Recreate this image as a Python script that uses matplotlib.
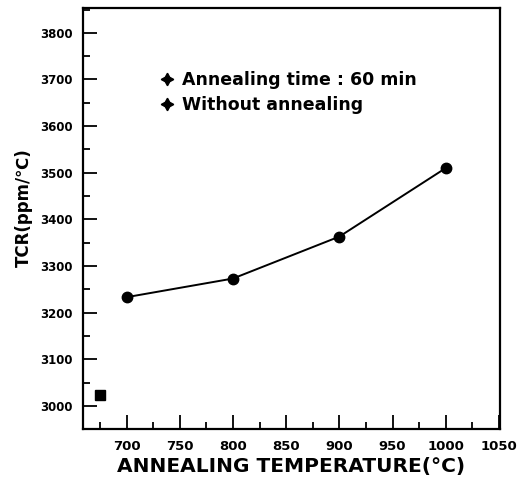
import matplotlib
matplotlib.use("Agg")
import matplotlib.pyplot as plt
from matplotlib.lines import Line2D
from matplotlib.ticker import MultipleLocator

plt.rcParams['font.family'] = ['DejaVu Sans']
plt.rcParams['font.weight'] = 'bold'

# Data
anneal_temp = [700, 800, 900, 1000]
anneal_tcr = [3233, 3273, 3363, 3510]
no_anneal_x = [675]
no_anneal_tcr = [3023]
legend_labels = ["Annealing time : 60 min", "Without annealing"]

fig = plt.figure(figsize=(5.28, 4.8), dpi=100)
ax = fig.add_axes([0.157, 0.106, 0.79, 0.877])

ax.plot(anneal_temp, anneal_tcr, color='black', lw=1.4, marker='o', ms=7.5)
ax.plot(no_anneal_x, no_anneal_tcr, color='black', lw=0, marker='s', ms=7.5)

ax.set_xlim(659, 1051)
ax.set_ylim(2950, 3853)
ax.xaxis.set_major_locator(MultipleLocator(50))
ax.xaxis.set_minor_locator(MultipleLocator(25))
ax.yaxis.set_major_locator(MultipleLocator(100))
ax.yaxis.set_minor_locator(MultipleLocator(50))

ax.tick_params(which='major', direction='in', length=10, width=1.3, top=False, right=False)
ax.tick_params(which='minor', direction='in', length=5, width=1.3, top=False, right=False)
ax.tick_params(axis='y', which='major', labelsize=8.5, pad=7)
ax.tick_params(axis='x', which='major', labelsize=9.5, pad=8)
for lab in ax.get_xticklabels() + ax.get_yticklabels():
    lab.set_fontweight('bold')

for s in ax.spines.values():
    s.set_linewidth(1.6)

ax.set_xlabel("ANNEALING TEMPERATURE(°C)", fontsize=14.5, fontweight='bold', labelpad=3)
ax.set_ylabel("TCR(ppm/℃)", fontsize=12, fontweight='bold')
ax.yaxis.set_label_coords(-0.12, 0.527)

handles = [Line2D([], [], color='black', lw=0, marker=(4, 1, 0), ms=9),
           Line2D([], [], color='black', lw=0, marker=(4, 1, 0), ms=9)]
ax.legend(handles, legend_labels, loc='upper left', bbox_to_anchor=(0.165, 0.872),
          frameon=False, borderpad=0, handlelength=0.8, handletextpad=0.45,
          labelspacing=0.4, prop={'size': 12.5, 'weight': 'bold'})

fig.savefig("out.png", dpi=100)
